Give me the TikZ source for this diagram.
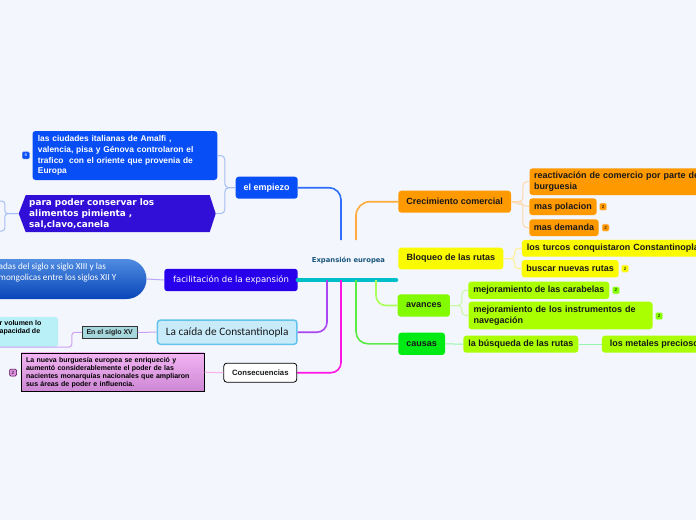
\documentclass[tikz,border=0pt]{standalone}
\usepackage{fontspec}
\setmainfont{Liberation Sans}
\newfontfamily\dejavu{DejaVu Sans}
\newfontfamily\carlito{Carlito}
\usetikzlibrary{calc,positioning}

\definecolor{bgmap}{RGB}{243,246,252}
\definecolor{bluebox}{RGB}{8,78,246}
\definecolor{hexfill}{RGB}{50,15,215}
\definecolor{facblue}{RGB}{40,0,235}
\definecolor{pilltop}{RGB}{80,140,225}
\definecolor{pillbot}{RGB}{8,70,185}
\definecolor{caidafill}{RGB}{200,235,250}
\definecolor{caidaedge}{RGB}{100,195,235}
\definecolor{siglofill}{RGB}{165,215,220}
\definecolor{volfill}{RGB}{185,240,248}
\definecolor{burgtop}{RGB}{242,180,242}
\definecolor{burgbot}{RGB}{205,135,212}
\definecolor{orangebox}{RGB}{255,153,0}
\definecolor{yellowbox}{RGB}{250,250,0}
\definecolor{avancesbox}{RGB}{130,250,0}
\definecolor{limebox}{RGB}{170,255,0}
\definecolor{causasbox}{RGB}{0,235,20}
\definecolor{roottext}{RGB}{25,85,125}
\definecolor{rootbar}{RGB}{0,190,200}
\definecolor{empiezoline}{RGB}{45,110,255}
\definecolor{crecline}{RGB}{255,170,60}
\definecolor{caidaline}{RGB}{170,70,240}
\definecolor{consline}{RGB}{255,20,230}
\definecolor{causasline}{RGB}{90,235,70}
\definecolor{avancesline}{RGB}{170,255,90}
\definecolor{bluetwig}{RGB}{165,190,245}
\definecolor{orangetwig}{RGB}{255,215,170}
\definecolor{yellowtwig}{RGB}{255,240,150}
\definecolor{greentwig}{RGB}{200,250,160}
\definecolor{causatwig}{RGB}{150,245,170}
\definecolor{factwig}{RGB}{185,165,250}
\definecolor{caidatwig}{RGB}{205,160,245}
\definecolor{constwig}{RGB}{250,175,240}

\begin{document}
\begin{tikzpicture}[x=1pt,y=-1pt,
    box/.style={rounded corners=3pt,inner sep=0pt,text=black!90,
      font=\fontsize{9}{10.5}\selectfont\bfseries},
    badge/.style={rounded corners=1.2pt,minimum size=7pt,inner sep=0pt,
      line width=0.5pt,font=\fontsize{4.5}{5}\selectfont},
    branch/.style={line width=1.6pt},
    twig/.style={line width=1pt}]
  \useasboundingbox (0,0) rectangle (696,520);
  \clip (0,0) rectangle (696,520);
  \fill[bgmap] (0,0) rectangle (696,520);

  % central topic
  \node[font=\dejavu\fontsize{6.8}{8}\selectfont\bfseries,text=roottext] (root) at (348.5,260) {Expansión europea};
  \coordinate (rootN1) at (341,240);
  \coordinate (rootN2) at (356,240);
  \coordinate (rootS1) at (327,280);
  \coordinate (rootS2) at (341,280);
  \coordinate (rootS3) at (356,280);
  \coordinate (rootS4) at (376,280);
  \coordinate (rootE) at (396,280);

  % left side
  \node[box,fill=bluebox,text=white,minimum width=62pt,minimum height=22pt] (empiezo) at (266.7,187.7) {el empiezo};
  \node[box,fill=bluebox,text=white,font=\fontsize{8.4}{10.8}\selectfont\bfseries,anchor=west,
    text width=174pt,align=left,inner xsep=5.4pt,minimum height=49pt] (ciudades) at (32.3,155.5)
    {las ciudades italianas de Amalfi ,\\valencia, pisa y Génova controlaron el\\trafico\ \ con el oriente que provenia de\\Europa};
  \node[badge,fill=bluebox,draw=bluebox!70,text=white] (badgeciudades) at (25.8,155.3) {6};

  \fill[hexfill] (18.7,213.6) -- (25.7,195.1) -- (209.7,195.1) -- (215.7,213.6) -- (209.7,232.1) -- (25.7,232.1) -- cycle;
  \node[font=\dejavu\fontsize{8.9}{11}\selectfont\bfseries,text=white,align=left,text width=176pt,
    minimum width=197pt,minimum height=37pt,inner sep=0pt] (conservar) at (117.2,213.6)
    {para poder conservar los\\alimentos pimienta ,\\sal,clavo,canela};
  \coordinate (offA) at (-5,201);
  \coordinate (offB) at (-5,231);

  \node[box,fill=facblue,text=white,font=\dejavu\fontsize{8.5}{10}\selectfont,
    minimum width=133.4pt,minimum height=22.4pt] (facilitacion) at (231,280) {facilitación de la expansión};
  \node[anchor=east,minimum width=210pt,minimum height=40pt,rounded corners=20pt,
    top color=pilltop,bottom color=pillbot,inner sep=0pt] (cruzadas) at (146.7,279) {};
  \node[anchor=north west,font=\carlito\fontsize{9.2}{11}\selectfont,text=white,align=left,inner sep=0pt]
    (cruzadastxt) at (-1.5,262.5) {adas del siglo x siglo XIII y las\\mongolicas entre los siglos XII Y};

  \node[box,fill=caidafill,draw=caidaedge,line width=1.5pt,font=\carlito\fontsize{11.3}{13}\selectfont,
    minimum width=139.5pt,minimum height=24.2pt] (caida) at (227.2,332.2) {La caída de Constantinopla};
  \node[box,rounded corners=0pt,fill=siglofill,draw=black!80,line width=0.8pt,
    font=\fontsize{7}{8}\selectfont\bfseries,minimum width=55pt,minimum height=12.3pt] (sigloxv) at (109.7,332.3) {En el siglo XV};
  \node[fill=volfill,rounded corners=3pt,anchor=north east,minimum width=120pt,minimum height=30pt] (volumen) at (58.3,316.7) {};
  \node[anchor=north west,inner sep=0pt,align=left,font=\fontsize{7}{8.3}\selectfont\bfseries]
    (volumentxt) at (-0.5,320) {r volumen lo\\apacidad de};

  \node[box,fill=white,draw=black,line width=0.8pt,font=\fontsize{7.7}{9}\selectfont\bfseries,
    minimum width=73pt,minimum height=19pt] (consecuencias) at (260.3,372.7) {Consecuencias};
  \node[anchor=west,top color=burgtop,bottom color=burgbot,draw=black,line width=0.8pt,
    text width=173pt,align=left,inner xsep=5pt,minimum height=38.5pt,
    font=\fontsize{7}{8}\selectfont\bfseries] (burguesia) at (20.7,372.2)
    {La nueva burguesía europea se enriqueció y\\aumentó considerablemente el poder de las\\nacientes monarquías nacionales que ampliaron\\sus áreas de poder e influencia.};
  \node[badge,fill=burgtop!80!violet,draw=violet!60!black] (badgeburguesia) at (13,372.5) {2};

  % right side
  \node[box,fill=orangebox,minimum width=112.7pt,minimum height=22pt] (crecimiento) at (454.7,201.7) {Crecimiento comercial};
  \node[box,fill=orangebox,anchor=west,text width=172pt,align=left,inner xsep=4.7pt,
    minimum height=26.7pt] (reactivacion) at (529.3,181.7) {reactivación de comercio por parte de\\burguesia};
  \node[box,fill=orangebox,minimum width=67.4pt,minimum height=16.7pt] (polacion) at (563,206.7) {mas polacion};
  \node[box,fill=orangebox,minimum width=69.4pt,minimum height=16.7pt] (demanda) at (564,227.7) {mas demanda};
  \node[badge,fill=orangebox,draw=orangetwig] (badgepolacion) at (603,206.7) {2};
  \node[badge,fill=orangebox,draw=orangetwig] (badgedemanda) at (605.5,227.7) {2};

  \node[box,fill=yellowbox,minimum width=105pt,minimum height=21.6pt] (bloqueo) at (450.8,258.5) {Bloqueo de las rutas};
  \node[box,fill=yellowbox,anchor=west,inner xsep=5pt,minimum width=190pt,minimum height=16.7pt,
    text width=180pt,align=left] (turcos) at (521.7,248.3) {los turcos conquistaron Constantinopla};
  \node[box,fill=yellowbox,minimum width=97pt,minimum height=17.3pt] (buscar) at (570.2,268.7) {buscar nuevas rutas};
  \node[badge,fill=yellowbox,draw=yellowtwig] (badgebuscar) at (625,268.7) {2};

  \node[box,fill=avancesbox,minimum width=52.3pt,minimum height=22.4pt] (avances) at (423.8,305.5) {avances};
  \node[box,fill=limebox,minimum width=141pt,minimum height=17.3pt] (carabelas) at (538.8,290.3) {mejoramiento de las carabelas};
  \node[box,fill=limebox,anchor=west,text width=174pt,align=left,inner xsep=5pt,
    minimum height=27.6pt] (instrumentos) at (468.3,315.5) {mejoramiento de los instrumentos de\\navegación};
  \node[badge,fill=limebox!80!green,draw=greentwig] (badgecarabelas) at (615.8,290.3) {2};
  \node[badge,fill=limebox!80!green,draw=greentwig] (badgeinstrumentos) at (659,316) {2};

  \node[box,fill=causasbox,minimum width=46.7pt,minimum height=22.3pt] (causas) at (421.7,343.8) {causas};
  \node[box,fill=limebox,minimum width=115pt,minimum height=17pt] (busqueda) at (520.8,344.2) {la búsqueda de las rutas};
  \node[box,fill=limebox,anchor=west,inner xsep=5pt,minimum width=110pt,minimum height=17pt] (metales) at (601.7,344.2) {los metales preciosos};

  % main branches
  \draw[rootbar,line width=4.5pt,line cap=round] (facilitacion.east) -- (rootE);
  \draw[branch,empiezoline,rounded corners=12pt] (empiezo.east) -| (rootN1);
  \draw[branch,crecline,rounded corners=14pt] (crecimiento.west) -| (rootN2);
  \draw[branch,caidaline,rounded corners=10pt] (caida.east) -| (rootS1);
  \draw[branch,consline,rounded corners=10pt] (consecuencias.east) -| (rootS2);
  \draw[branch,causasline,rounded corners=12pt] (causas.west) -| (rootS3);
  \draw[branch,avancesline,rounded corners=10pt] (avances.west) -| (rootS4);

  % sub branches
  \draw[twig,bluetwig,rounded corners=4pt] (empiezo.west) -- ++(-10.7,0) |- (ciudades.east);
  \draw[twig,bluetwig,rounded corners=4pt] (empiezo.west) -- ++(-10.7,0) |- (conservar.east);
  \draw[twig,bluetwig,rounded corners=3pt] (conservar.west) -- ++(-13.7,0) |- (offA);
  \draw[twig,bluetwig,rounded corners=3pt] (conservar.west) -- ++(-13.7,0) |- (offB);
  \draw[twig,factwig] (facilitacion.west) -- (cruzadas.east);
  \draw[twig,caidatwig] (caida.west) -- (sigloxv.east);
  \draw[twig,caidatwig,rounded corners=3pt] (sigloxv.west) -- ++(-10,0) |- (volumen.south);
  \draw[twig,constwig] (consecuencias.west) -- (burguesia.east);

  \draw[twig,orangetwig,rounded corners=4pt] (crecimiento.east) -- ++(11.7,0) |- (reactivacion.west);
  \draw[twig,orangetwig] (crecimiento.east) -- (polacion.west);
  \draw[twig,orangetwig,rounded corners=4pt] (crecimiento.east) -- ++(11.7,0) |- (demanda.west);
  \draw[twig,yellowtwig,rounded corners=4pt] (bloqueo.east) -- ++(11,0) |- (turcos.west);
  \draw[twig,yellowtwig,rounded corners=4pt] (bloqueo.east) -- ++(11,0) |- (buscar.west);
  \draw[twig,greentwig,rounded corners=4pt] (avances.east) -- ++(11.7,0) |- (carabelas.west);
  \draw[twig,greentwig,rounded corners=4pt] (avances.east) -- ++(11.7,0) |- (instrumentos.west);
  \draw[twig,causatwig] (causas.east) -- (busqueda.west);
  \draw[twig,causatwig] (busqueda.east) -- (metales.west);
\end{tikzpicture}
\end{document}
